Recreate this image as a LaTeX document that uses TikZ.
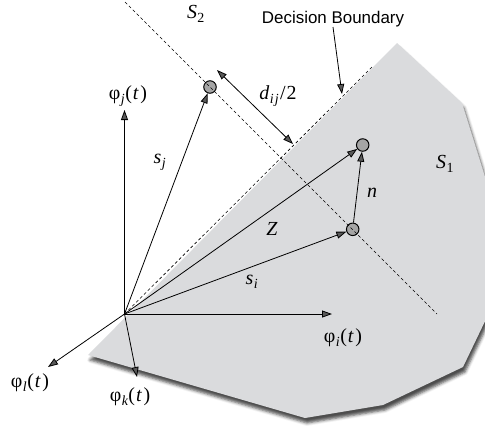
\documentclass[tikz,border=0pt]{standalone}
\usepackage{fontspec}
\setmainfont{Liberation Serif}
\newfontfamily\sansf{Liberation Sans}
\usetikzlibrary{arrows.meta,shadows.blur}
\newcommand\lsub[1]{\kern0.5bp\raisebox{-0.4ex}{\fontsize{14}{14}\selectfont\itshape #1}\kern0.5bp}
\newcommand\lphi[1]{φ\lsub{#1}(\kern1bp\textit{t}\kern1.5bp)}
\definecolor{regiongray}{RGB}{218,219,221}
\definecolor{dotgray}{RGB}{165,165,165}
\begin{document}
\begin{tikzpicture}[x=1bp,y=-1bp,
  lab/.style={font=\fontsize{20}{24}\selectfont, inner sep=0pt},
  vec/.style={line width=0.8bp, -{Triangle[length=10bp,width=7bp]}},
  dvec/.style={line width=0.8bp, {Triangle[length=10bp,width=7bp]}-{Triangle[length=10bp,width=7bp]}},
  dline/.style={line width=0.6bp, dash pattern=on 3bp off 2.5bp},
  pt/.style={circle, draw=black, line width=1bp, fill=dotgray, minimum size=12.5bp, inner sep=0pt}]
\useasboundingbox (0,0) rectangle (485,429);
% region S1
\fill[regiongray, blur shadow={shadow xshift=2bp, shadow yshift=-5bp, shadow blur radius=3bp, shadow opacity=70}]
  (397,43) -- (462,103) -- (500,225) -- (500,290) -- (463,367) -- (383,405) -- (305,418) -- (88,355) -- cycle;
% coordinates
\coordinate (O) at (124.5,314);
\coordinate (jtip) at (124.5,110);
\coordinate (itip) at (332,314);
\coordinate (ltip) at (48,367);
\coordinate (ktip) at (137,377);
\coordinate (l1a) at (125,2);
\coordinate (l1b) at (437,314);
\coordinate (dbt) at (372,67);
\coordinate (da) at (217,70);
\coordinate (db) at (293,144);
\coordinate (dbarrS) at (333,27);
\coordinate (dbarrE) at (342,94);
% points
\node[pt] (sj) at (210,87) {};
\node[pt] (si) at (352.7,229.3) {};
\node[pt] (r) at (362.7,145) {};
% dashed lines
\draw[dline] (l1a) -- (l1b);
\draw[dline] (O) -- (dbt);
% axes
\draw[vec] (O) -- (jtip);
\draw[vec] (O) -- (itip);
\draw[vec] (O) -- (ltip);
\draw[vec] (O) -- (ktip);
% vectors
\draw[vec] (O) -- (sj);
\draw[vec] (O) -- (si);
\draw[vec] (O) -- (r);
\draw[vec] (si) -- (r);
\draw[dvec] (da) -- (db);
\draw[vec] (dbarrS) -- (dbarrE);
% labels
\node[lab] (Lj) at (128,96) {\lphi{j}};
\node[lab] (Li) at (343,338) {\lphi{i}};
\node[lab] (Ll) at (30,383) {\lphi{l}};
\node[lab, fill=white, inner sep=1bp] (Lk) at (130,397) {\lphi{k}};
\node[lab] (Ldij) at (278,96) {\textit{d}\lsub{i\kern1bp j}\kern1bp/\kern1bp2};
\node[font=\sansf\fontsize{17}{20}\selectfont, inner sep=0pt] (Ldb) at (333,19) {Decision Boundary};
\node[lab] (LS2) at (196,14) {\textit{S}\lsub{\upshape 2}};
\node[lab] (LS1) at (445,164) {\textit{S}\lsub{\upshape 1}};
\node[lab] (Lsj) at (160,162) {\textit{s}\lsub{j}};
\node[lab] (Lsi) at (252,282) {\textit{s}\lsub{i}};
\node[lab] (LZ) at (272,229) {\textit{Z}};
\node[lab] (Ln) at (372,193) {\textit{n}};
\end{tikzpicture}
\end{document}
